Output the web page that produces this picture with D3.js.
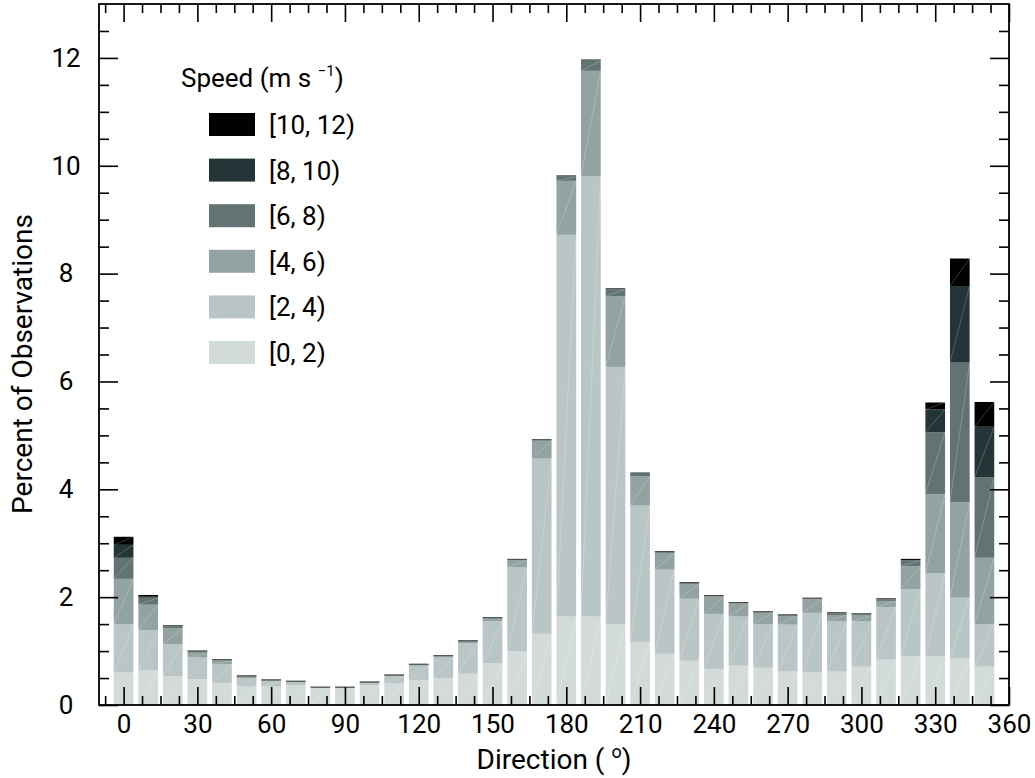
<!DOCTYPE html>
<html>
<head>
<meta charset="utf-8">
<script src="https://cdn.jsdelivr.net/npm/d3@7"></script>
<style>
  body { margin: 0; background: #fff; }
  text { font-family: Roboto, "Open Sans", sans-serif; fill: #000; }
</style>
</head>
<body>
<svg id="chart" width="1035" height="778"></svg>
<script>
// Wind direction bins (degrees, bin centre)
const directions = [0, 10, 20, 30, 40, 50, 60, 70, 80, 90, 100, 110,
                    120, 130, 140, 150, 160, 170, 180, 190, 200, 210, 220, 230,
                    240, 250, 260, 270, 280, 290, 300, 310, 320, 330, 340, 350];

// Speed classes, bottom of the stack first
const speedBins = ["[0, 2)", "[2, 4)", "[4, 6)", "[6, 8)", "[8, 10)", "[10, 12)"];

// Percent of observations in each direction bin, per speed class
const pct0to2 = [0.60, 0.65, 0.53, 0.48, 0.41, 0.34, 0.34, 0.37, 0.31, 0.31, 0.37, 0.40,
                 0.46, 0.50, 0.58, 0.77, 1.00, 1.32, 1.64, 1.64, 1.50, 1.17, 0.95, 0.82,
                 0.67, 0.73, 0.69, 0.62, 0.60, 0.62, 0.71, 0.84, 0.90, 0.90, 0.86, 0.71];
const pct2to4 = [0.90, 0.74, 0.60, 0.40, 0.35, 0.16, 0.10, 0.05, 0.005, 0.005, 0.035, 0.13,
                 0.27, 0.38, 0.57, 0.78, 1.55, 3.25, 7.08, 8.17, 4.77, 2.53, 1.56, 1.15,
                 1.02, 0.91, 0.81, 0.87, 1.11, 0.93, 0.84, 0.97, 1.25, 1.54, 1.13, 0.79];
const pct4to6 = [0.84, 0.47, 0.29, 0.09, 0.06, 0.02, 0.01, 0.005, 0.005, 0.005, 0.005, 0.01,
                 0.01, 0.02, 0.02, 0.05, 0.13, 0.33, 1.00, 1.95, 1.31, 0.54, 0.31, 0.27,
                 0.32, 0.24, 0.21, 0.16, 0.25, 0.12, 0.11, 0.12, 0.42, 1.47, 1.77, 1.23];
const pct6to8 = [0.39, 0.13, 0.04, 0.02, 0.01, 0.01, 0.005, 0.005, 0.0, 0.0, 0.005, 0.005,
                 0.005, 0.005, 0.01, 0.01, 0.01, 0.01, 0.08, 0.19, 0.13, 0.05, 0.015, 0.02,
                 0.01, 0.01, 0.01, 0.01, 0.01, 0.03, 0.02, 0.03, 0.11, 1.15, 2.59, 1.49];
const pct8to10 = [0.24, 0.03, 0.01, 0.01, 0.01, 0.01, 0.01, 0.01, 0.01, 0.01, 0.01, 0.01,
                  0.01, 0.01, 0.01, 0.01, 0.01, 0.01, 0.01, 0.01, 0.01, 0.01, 0.01, 0.01,
                  0.01, 0.01, 0.01, 0.01, 0.01, 0.01, 0.01, 0.01, 0.01, 0.42, 1.42, 0.94];
const pct10to12 = [0.15, 0.02, 0.01, 0.01, 0.01, 0.01, 0.01, 0.01, 0.01, 0.01, 0.01, 0.01,
                   0.01, 0.01, 0.01, 0.01, 0.01, 0.01, 0.01, 0.01, 0.01, 0.01, 0.01, 0.01,
                   0.01, 0.01, 0.01, 0.01, 0.01, 0.01, 0.01, 0.01, 0.02, 0.13, 0.51, 0.46];

const binColors = ["#d2dbda", "#b9c6c5", "#92a3a1", "#617473", "#243537", "#000000"];

const xTickLabels = [0, 30, 60, 90, 120, 150, 180, 210, 240, 270, 300, 330, 360];
const yTickLabels = [0, 2, 4, 6, 8, 10, 12];

// ---- layout ----
const svg = d3.select("#chart");
const plot = { left: 99, right: 1009, top: 4, bottom: 705 };
const barHalfWidth = 4; // degrees either side of the bin centre

const x = d3.scaleLinear().domain([-10, 360]).range([plot.left, plot.right]);
const y = d3.scaleLinear().domain([0, 13]).range([plot.bottom, plot.top]);

// table for the stack layout
const seriesValues = [pct0to2, pct2to4, pct4to6, pct6to8, pct8to10, pct10to12];
const table = directions.map((d, i) => {
  const row = { direction: d };
  speedBins.forEach((b, k) => { row[b] = seriesValues[k][i]; });
  return row;
});
const stacked = d3.stack().keys(speedBins)(table);
const color = d3.scaleOrdinal().domain(speedBins).range(binColors);

// ---- stacked bars ----
const layers = svg.append("g").selectAll("g")
  .data(stacked)
  .join("g")
  .attr("fill", s => color(s.key));

layers.selectAll("rect")
  .data(s => s)
  .join("rect")
  .attr("x", d => x(d.data.direction - barHalfWidth))
  .attr("width", d => x(d.data.direction + barHalfWidth) - x(d.data.direction - barHalfWidth))
  .attr("y", d => y(d[1]))
  .attr("height", d => Math.max(0, y(d[0]) - y(d[1])));

// faint diagonal seams across each segment
layers.selectAll("line")
  .data(s => s.filter(d => y(d[0]) - y(d[1]) > 3))
  .join("line")
  .attr("x1", d => x(d.data.direction - barHalfWidth))
  .attr("y1", d => y(d[0]))
  .attr("x2", d => x(d.data.direction + barHalfWidth))
  .attr("y2", d => y(d[1]))
  .attr("stroke", "#ffffff")
  .attr("stroke-opacity", 0.28)
  .attr("stroke-width", 0.8);

// ---- axes (ticks point inward on all four sides) ----
const xMinor = d3.range(-7.5, 360.1, 7.5).filter(v => v % 30 !== 0);
const yMinor = d3.range(0.5, 13, 0.5).filter(v => v % 2 !== 0);
const yMajorAll = yTickLabels;

function styleAxis(g) {
  g.select(".domain").remove();
  g.selectAll(".tick line").attr("stroke", "#000").attr("stroke-width", 1.6);
}

// bottom
svg.append("g").attr("transform", `translate(0,${plot.bottom})`)
  .call(d3.axisBottom(x).tickValues(xMinor).tickSize(-9).tickFormat(""))
  .call(styleAxis);
const xAxisG = svg.append("g").attr("transform", `translate(0,${plot.bottom})`)
  .call(d3.axisBottom(x).tickValues(xTickLabels).tickSize(-18).tickPadding(10).tickFormat(d3.format("d")))
  .call(styleAxis);
xAxisG.selectAll(".tick text").attr("font-size", 26).attr("font-family", "Roboto, sans-serif");

// top
svg.append("g").attr("transform", `translate(0,${plot.top})`)
  .call(d3.axisTop(x).tickValues(xMinor).tickSize(-9).tickFormat(""))
  .call(styleAxis);
svg.append("g").attr("transform", `translate(0,${plot.top})`)
  .call(d3.axisTop(x).tickValues(xTickLabels).tickSize(-18).tickFormat(""))
  .call(styleAxis);

// left
svg.append("g").attr("transform", `translate(${plot.left},0)`)
  .call(d3.axisLeft(y).tickValues(yMinor).tickSize(-10).tickFormat(""))
  .call(styleAxis);
const yAxisG = svg.append("g").attr("transform", `translate(${plot.left},0)`)
  .call(d3.axisLeft(y).tickValues(yMajorAll).tickSize(-19).tickFormat(d3.format("d")))
  .call(styleAxis);
yAxisG.selectAll(".tick text")
  .attr("x", -33)
  .attr("text-anchor", "middle")
  .attr("font-size", 26)
  .attr("font-family", "Roboto, sans-serif");

// right
svg.append("g").attr("transform", `translate(${plot.right},0)`)
  .call(d3.axisRight(y).tickValues(yMinor).tickSize(-10).tickFormat(""))
  .call(styleAxis);
svg.append("g").attr("transform", `translate(${plot.right},0)`)
  .call(d3.axisRight(y).tickValues(yMajorAll).tickSize(-19).tickFormat(""))
  .call(styleAxis);

// frame
svg.append("rect")
  .attr("x", plot.left).attr("y", plot.top)
  .attr("width", plot.right - plot.left).attr("height", plot.bottom - plot.top)
  .attr("fill", "none").attr("stroke", "#000").attr("stroke-width", 1.8);

// ---- axis titles ----
const xTitle = svg.append("text")
  .attr("x", (plot.left + plot.right) / 2)
  .attr("y", 769)
  .attr("text-anchor", "middle")
  .attr("font-size", 28);
xTitle.append("tspan").text("Direction ( ");
xTitle.append("tspan").attr("font-size", 18).attr("dy", -11).text("o");
xTitle.append("tspan").attr("dy", 11).text(")");

svg.append("text")
  .attr("transform", "translate(32,364) rotate(-90)")
  .attr("text-anchor", "middle")
  .attr("font-size", 28)
  .text("Percent of Observations");

// ---- legend ----
const legend = svg.append("g");
const legTitle = legend.append("text")
  .attr("x", 181).attr("y", 87)
  .attr("font-size", 26);
legTitle.append("tspan").text("Speed (m s ");
legTitle.append("tspan").attr("font-size", 15).attr("dy", -11).text("\u22121");
legTitle.append("tspan").attr("dy", 11).text(")");

const legendOrder = speedBins.slice().reverse();
const rowStep = 45.6;
const rows = legend.selectAll("g.row")
  .data(legendOrder)
  .join("g")
  .attr("class", "row")
  .attr("transform", (d, i) => `translate(209,${113 + i * rowStep})`);
rows.append("rect")
  .attr("width", 46).attr("height", 23)
  .attr("fill", d => color(d));
rows.append("text")
  .attr("x", 60).attr("y", 21)
  .attr("font-size", 26)
  .text(d => d);
</script>
</body>
</html>
